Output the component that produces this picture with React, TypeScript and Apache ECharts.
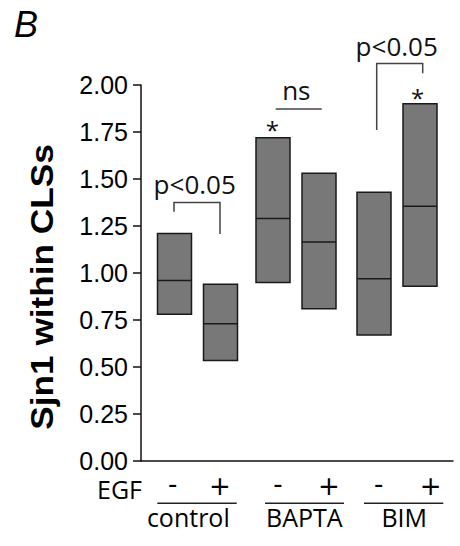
import React, { useEffect, useRef } from "react";
import * as echarts from "echarts";

// ---- data ----
const groups = ["control", "BAPTA", "BIM"];
const egfLabels = ["-", "+"];
const boxMin = [0.78, 0.535, 0.95, 0.81, 0.67, 0.93];
const boxMid = [0.96, 0.73, 1.29, 1.165, 0.97, 1.355];
const boxMax = [1.21, 0.94, 1.72, 1.53, 1.43, 1.9];
const yMin = 0;
const yMax = 2;
const yStep = 0.25;

// significance annotations (x in axis units, y in data units)
const bracketX1 = [33, 235.7];
const bracketX2 = [79, 281.7];
const bracketTop = [1.375, 2.115];
const bracketLeftEnd = [1.326, 1.761];
const bracketRightEnd = [1.207, 2.062];
const bracketLabel = ["p<0.05", "p<0.05"];
const bracketLabelX = [53.7, 255.7];
const bracketLabelY = [1.474, 2.208];
const nsLine = { x1: 134.7, x2: 180.7, y: 1.872, label: "ns", lx: 155.3, ly: 1.974 };
const starX = [131.3, 276.7];
const starY = [1.765, 1.934];

// ---- layout ----
const GRID_LEFT = 141;
const GRID_TOP = 85;
const GRID_W = 312;
const GRID_H = 376;
const groupStart = [33.5, 132, 233];
const egfOffset = 46;
const halfW = 17;

const SANS = '"Open Sans", "Noto Sans", sans-serif';
const DEJAVU = '"DejaVu Sans", sans-serif';
const ARIAL = '"Liberation Sans", Arial, sans-serif';

export default function App() {
  const ref = useRef<HTMLDivElement>(null);
  useEffect(() => {
    if (!ref.current) return;
    const chart = echarts.init(ref.current, undefined, { renderer: "svg" });

    const boxData = boxMin.map((lo, i) => {
      const g = Math.floor(i / 2);
      const e = i % 2;
      return [groupStart[g] + e * egfOffset, lo, boxMid[i], boxMax[i]];
    });

    const graphics: any[] = [];
    graphics.push({
      type: "text",
      x: 14,
      y: 24,
      style: { text: "B", font: 'italic 36px "Liberation Sans"', fill: "#000", align: "left", verticalAlign: "middle" },
    });
    graphics.push({
      type: "text",
      x: 42,
      y: 287,
      rotation: Math.PI / 2,
      scaleX: 1.1,
      style: { text: "Sjn1 within CLSs", font: 'bold 32px "Liberation Sans"', fill: "#000", align: "center", verticalAlign: "middle" },
    });
    graphics.push({
      type: "text",
      x: 142,
      y: 489.3,
      style: { text: "EGF", font: '25px ' + SANS, fill: "#000", align: "right", verticalAlign: "middle" },
    });
    const signX = [
      [172.8, 219.8],
      [278, 329],
      [378.7, 430.7],
    ];
    const underline = [
      [157.3, 236.7],
      [265, 344],
      [364, 443.3],
    ];
    const groupLabelX = [188.3, 304.3, 404.2];
    groups.forEach((name, g) => {
      egfLabels.forEach((s, e) => {
        graphics.push({
          type: "text",
          x: signX[g][e],
          y: e === 0 ? 484 : 486,
          style: {
            text: s,
            font: "26px " + DEJAVU,
            fill: "#000",
            align: "center",
            verticalAlign: "middle",
          },
        });
      });
      graphics.push({
        type: "line",
        shape: { x1: underline[g][0], y1: 503.3, x2: underline[g][1], y2: 503.3 },
        style: { stroke: "#222", lineWidth: 1.5 },
      });
      graphics.push({
        type: "text",
        x: groupLabelX[g],
        y: 517,
        style: { text: name, font: '25px ' + SANS, fill: "#000", align: "center", verticalAlign: "middle" },
      });
    });

    const option: any = {
      animation: false,
      grid: { left: GRID_LEFT, top: GRID_TOP, width: GRID_W, height: GRID_H, containLabel: false },
      xAxis: {
        type: "value",
        min: 0,
        max: GRID_W,
        axisLine: { show: true, lineStyle: { color: "#111", width: 1.5 } },
        axisTick: { show: false },
        axisLabel: { show: false },
        splitLine: { show: false },
      },
      yAxis: {
        type: "value",
        min: yMin,
        max: yMax,
        interval: yStep,
        axisLine: { show: true, onZero: false, lineStyle: { color: "#111", width: 1.5 } },
        axisTick: { show: true, length: 8, lineStyle: { color: "#111", width: 1.5 } },
        axisLabel: {
          margin: 13,
          color: "#000",
          fontSize: 25,
          fontFamily: ARIAL,
          formatter: (v: number) => v.toFixed(2),
        },
        splitLine: { show: false },
      },
      series: [
        {
          type: "custom",
          clip: false,
          data: boxData,
          renderItem: (params: any, api: any) => {
            const x = api.value(0);
            const lo = api.value(1);
            const mid = api.value(2);
            const hi = api.value(3);
            const p1 = api.coord([x - halfW, hi]);
            const p2 = api.coord([x + halfW, lo]);
            const pm = api.coord([x, mid]);
            return {
              type: "group",
              children: [
                {
                  type: "rect",
                  shape: { x: p1[0], y: p1[1], width: p2[0] - p1[0], height: p2[1] - p1[1] },
                  style: { fill: "#787878", stroke: "#1a1a1a", lineWidth: 1.5 },
                },
                {
                  type: "line",
                  shape: { x1: p1[0], y1: pm[1], x2: p2[0], y2: pm[1] },
                  style: { stroke: "#1a1a1a", lineWidth: 1.5 },
                },
              ],
            };
          },
        },
        {
          type: "custom",
          clip: false,
          silent: true,
          data: [[0]],
          renderItem: (params: any, api: any) => {
            const children: any[] = [];
            bracketX1.forEach((x1, i) => {
              const a = api.coord([x1, bracketLeftEnd[i]]);
              const b = api.coord([x1, bracketTop[i]]);
              const c = api.coord([bracketX2[i], bracketTop[i]]);
              const d = api.coord([bracketX2[i], bracketRightEnd[i]]);
              children.push({
                type: "polyline",
                shape: { points: [a, b, c, d] },
                style: { stroke: "#444", lineWidth: 1.5, fill: null },
              });
              const t = api.coord([bracketLabelX[i], bracketLabelY[i]]);
              children.push({
                type: "text",
                x: t[0],
                y: t[1],
                style: { text: bracketLabel[i], font: '26px ' + SANS, fill: "#111", align: "center", verticalAlign: "middle" },
              });
            });
            const n1 = api.coord([nsLine.x1, nsLine.y]);
            const n2 = api.coord([nsLine.x2, nsLine.y]);
            children.push({
              type: "line",
              shape: { x1: n1[0], y1: n1[1], x2: n2[0], y2: n2[1] },
              style: { stroke: "#444", lineWidth: 1.5 },
            });
            const nt = api.coord([nsLine.lx, nsLine.ly]);
            children.push({
              type: "text",
              x: nt[0],
              y: nt[1],
              style: { text: nsLine.label, font: '26px ' + SANS, fill: "#111", align: "center", verticalAlign: "middle" },
            });
            starX.forEach((sx, i) => {
              const p = api.coord([sx, starY[i]]);
              children.push({
                type: "text",
                x: p[0],
                y: p[1],
                style: { text: "*", font: '24px ' + SANS, fill: "#111", align: "center", verticalAlign: "middle" },
              });
            });
            return { type: "group", children };
          },
        },
      ],
      graphic: graphics,
    };
    chart.setOption(option);
    return () => chart.dispose();
  }, []);
  return (
    <div
      ref={ref}
      style={{ position: "fixed", left: 0, top: 0, width: 460, height: 546, background: "#fff" }}
    />
  );
}
